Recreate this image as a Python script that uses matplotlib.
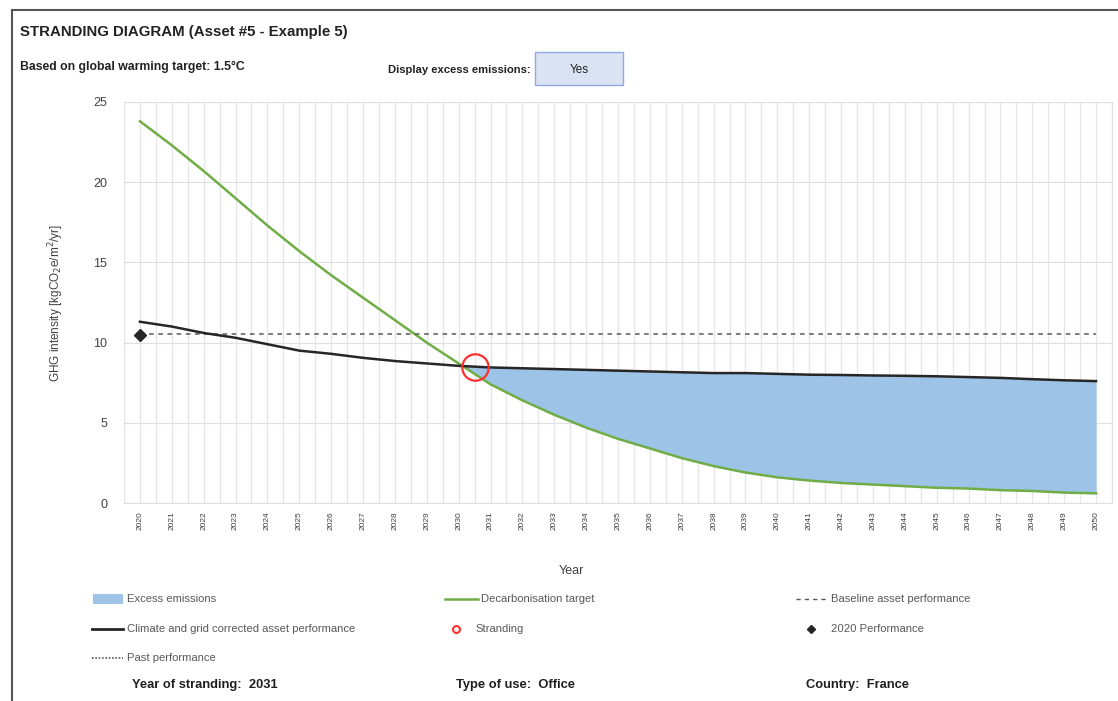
import matplotlib.pyplot as plt
from matplotlib.patches import Rectangle
from matplotlib.lines import Line2D
import numpy as np

# ----------------------------
# Data
# ----------------------------
years = list(range(2020, 2051))

decarb_target = [23.8, 22.3, 20.7, 19.0, 17.3, 15.7, 14.2, 12.8, 11.4, 10.0,
                 8.7, 7.4, 6.4, 5.5, 4.7, 4.0, 3.4, 2.8, 2.3, 1.9,
                 1.6, 1.4, 1.25, 1.15, 1.05, 0.95, 0.9, 0.8, 0.75, 0.65, 0.6]

corrected_perf = [11.3, 11.0, 10.6, 10.3, 9.9, 9.5, 9.3, 9.05, 8.85, 8.7,
                  8.55, 8.45, 8.4, 8.35, 8.3, 8.25, 8.2, 8.15, 8.1, 8.1,
                  8.05, 8.0, 7.98, 7.95, 7.93, 7.9, 7.85, 7.8, 7.72, 7.65, 7.6]

baseline_perf = 10.55
perf_2020 = 10.5
stranding_year = 2030.5
stranding_value = 8.45

TEXT = "#404040"
plt.rcParams["font.family"] = ["Liberation Sans", "DejaVu Sans"]

# ----------------------------
# Plot
# ----------------------------
W, H = 1118, 701
fig = plt.figure(figsize=(W / 100, H / 100), dpi=100)

def fx(px):
    return px / W

def fy(py):
    return 1 - py / H

# outer frame of the sheet
fig.patches.append(Rectangle((fx(12), fy(720)), fx(1200), 710 / H, transform=fig.transFigure,
                             fill=False, edgecolor="#555555", lw=1.5))

ax = fig.add_axes([fx(124), fy(503), fx(1112 - 124), (503 - 102) / H])

x = np.array(years, dtype=float)
g = np.array(decarb_target)
b = np.array(corrected_perf)

ax.fill_between(x, g, b, where=b >= g, interpolate=True, color="#9dc3e6", lw=0, zorder=2)
ax.plot(x, g, color="#70ad47", lw=1.8, zorder=3)
ax.plot(x, b, color="#262626", lw=1.8, zorder=4)
ax.plot([years[0], years[-1]], [baseline_perf, baseline_perf], color="#595959",
        lw=1.1, ls=(0, (3, 3)), zorder=3)
ax.plot([2020], [perf_2020], marker="D", color="#262626", ms=6, zorder=5)
ax.plot([stranding_year], [stranding_value], marker="o", ms=19, mfc="none",
        mec="#ff3030", mew=1.6, zorder=6)

ax.set_xlim(2019.5, 2050.5)
ax.set_ylim(0, 25)
ax.set_yticks(range(0, 26, 5))
ax.set_xticks(years)
ax.set_xticks(np.arange(2019.5, 2050.6, 0.5), minor=True)
ax.set_xticklabels([str(y) for y in years], rotation=90, fontsize=6, color=TEXT)
ax.tick_params(axis="x", which="both", length=0, pad=6)
ax.tick_params(axis="y", length=0, labelsize=9, colors=TEXT, pad=12)
ax.grid(True, which="both", axis="x", color="#e6e6e6", lw=0.9, zorder=0)
ax.grid(True, which="major", axis="y", color="#e0e0e0", lw=0.9, zorder=0)
for s in ax.spines.values():
    s.set_color("#e0e0e0")
ax.spines["top"].set_visible(False)
ax.spines["left"].set_visible(False)

ax.set_ylabel("GHG intensity [kgCO$_2$e/m$^2$/yr]", fontsize=8.5, color=TEXT, labelpad=20)
fig.text(fx(571), fy(571), "Year", fontsize=9, color=TEXT, ha="center", va="center")

# ----------------------------
# Header
# ----------------------------
fig.text(fx(20), fy(32), "STRANDING DIAGRAM (Asset #5 - Example 5)", fontsize=10.8,
         fontweight="bold", color="#222222", va="center")
fig.text(fx(20), fy(67), "Based on global warming target: 1.5°C", fontsize=8.8,
         fontweight="bold", color="#222222", va="center")
fig.text(fx(388), fy(70), "Display excess emissions:", fontsize=8.1,
         fontweight="bold", color="#222222", va="center")
fig.patches.append(Rectangle((fx(535), fy(85)), fx(88), 33 / H, transform=fig.transFigure,
                             facecolor="#dae3f3", edgecolor="#8faadc", lw=1))
fig.text(fx(579), fy(70), "Yes", fontsize=8.5, color="#222222", ha="center", va="center")

# ----------------------------
# Legend (manual, as in the sheet)
# ----------------------------
LG = "#595959"

def leg_text(px, py, s):
    fig.text(fx(px), fy(py), s, fontsize=8.1, color=LG, va="center")

fig.patches.append(Rectangle((fx(93), fy(604)), fx(30), 10 / H, transform=fig.transFigure,
                             facecolor="#9dc3e6", edgecolor="none"))
leg_text(127, 599, "Excess emissions")
fig.lines.append(Line2D([fx(445), fx(478)], [fy(599)] * 2, transform=fig.transFigure,
                        color="#70ad47", lw=1.8))
leg_text(481, 599, "Decarbonisation target")
fig.lines.append(Line2D([fx(796), fx(828)], [fy(599)] * 2, transform=fig.transFigure,
                        color=LG, lw=1, ls=(0, (3, 3))))
leg_text(831, 599, "Baseline asset performance")

fig.lines.append(Line2D([fx(92), fx(123)], [fy(629)] * 2, transform=fig.transFigure,
                        color="#262626", lw=2))
leg_text(127, 629, "Climate and grid corrected asset performance")
fig.lines.append(Line2D([fx(456)], [fy(629)], transform=fig.transFigure, marker="o",
                        ms=5, mfc="none", mec="#ff3030", mew=1.5))
leg_text(475, 629, "Stranding")
fig.lines.append(Line2D([fx(811)], [fy(629)], transform=fig.transFigure, marker="D",
                        ms=4, color="#262626"))
leg_text(831, 629, "2020 Performance")

fig.lines.append(Line2D([fx(92), fx(123)], [fy(658)] * 2, transform=fig.transFigure,
                        color=LG, lw=1.2, ls=(0, (1, 1))))
leg_text(127, 658, "Past performance")

for px, s in [(132, "Year of stranding:  2031"), (456, "Type of use:  Office"),
              (806, "Country:  France")]:
    fig.text(fx(px), fy(685), s, fontsize=9.3, fontweight="bold", color="#1f1f1f", va="center")

plt.savefig("out.png", dpi=100)
plt.close()
